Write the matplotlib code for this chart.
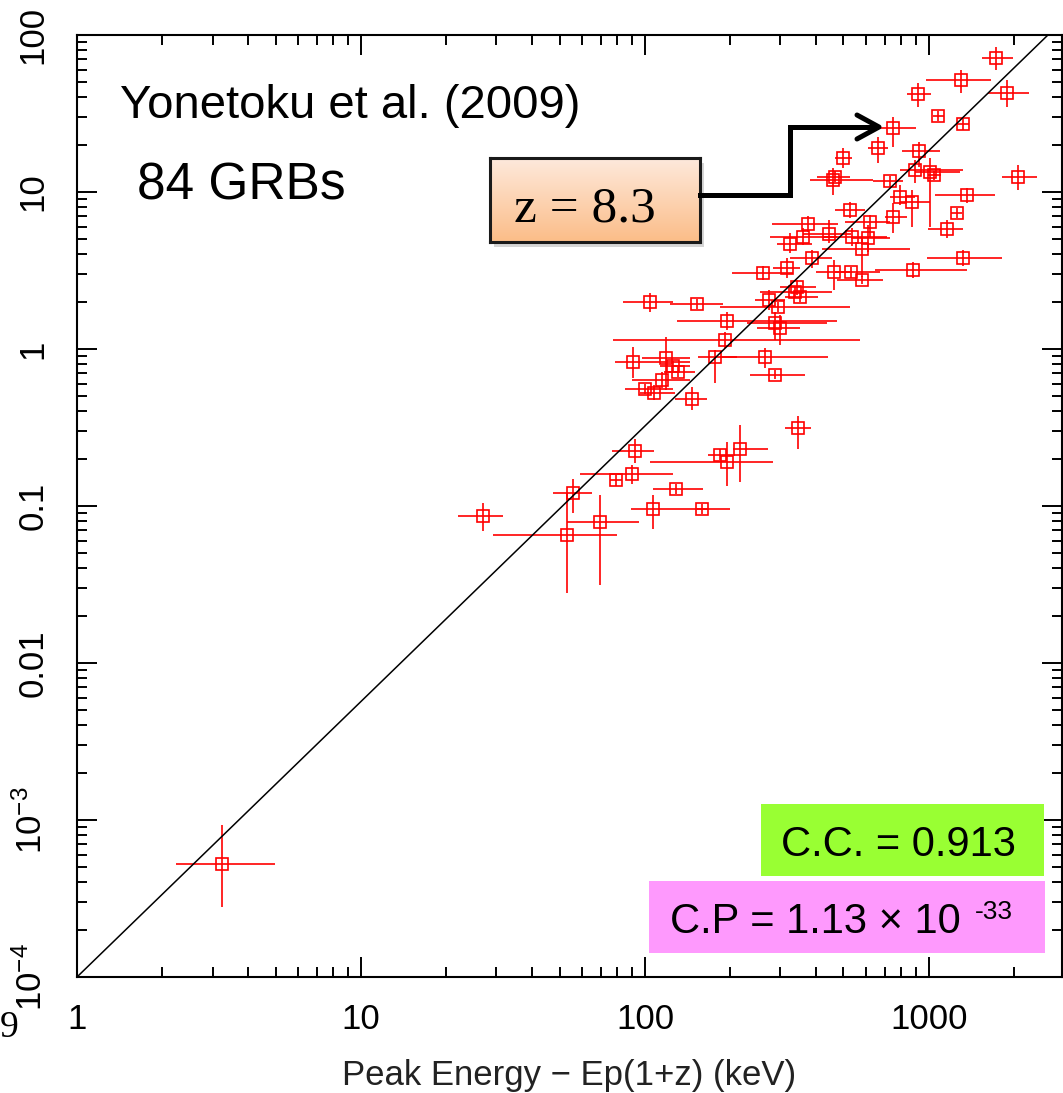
import numpy as np
import matplotlib
matplotlib.use("Agg")
import matplotlib.pyplot as plt
from matplotlib.patches import Rectangle
from matplotlib.lines import Line2D
from matplotlib.colors import LinearSegmentedColormap
from matplotlib.ticker import FixedLocator, LogLocator, NullFormatter

plt.rcParams['font.family'] = ['Liberation Sans', 'DejaVu Sans']
plt.rcParams['mathtext.fontset'] = 'custom'
plt.rcParams['mathtext.rm'] = 'Liberation Sans'
plt.rcParams['mathtext.it'] = 'Liberation Sans:italic'

# peak energy Ep(1+z) [keV] with error bar ends
ep = [1720, 1300, 1880, 915, 1076, 1318, 746, 661, 922, 498,
      2056, 459, 467, 730, 893, 1008, 1042, 1362, 791, 871,
      1255, 1157, 746, 527, 619, 375, 360, 324, 444, 536,
      609, 581, 387, 1318, 316, 260, 463, 531, 879, 343,
      337, 352, 294, 104, 152, 274, 194, 287, 299, 191,
      176, 265, 287, 90.7, 119, 126, 131, 115, 100, 108,
      146, 346, 92.2, 184, 194, 216, 90, 79.1, 129, 55.7,
      26.9, 107, 159, 69.5, 53.1, 3.24, 581]
ep_lo = [1540, 976, 1610, 838, 1030, 1260, 671, 609, 803, 466,
         1806, 381, 403, 635, 791, 893, 990, 1050, 730, 791,
         1200, 992, 700, 467, 506, 280, 275, 292, 360, 424,
         531, 420, 324, 984, 282, 202, 400, 467, 646, 299,
         254, 311, 184, 83.7, 122, 244, 130, 229, 248, 77.1,
         154, 184, 234, 78.3, 97.5, 113, 117, 90, 85, 96,
         128, 311, 76.5, 167, 104, 204, 59, 75, 107, 47.4,
         22, 89.3, 152, 53.1, 29.2, 2.23, 474]
ep_hi = [1980, 1650, 2250, 1016, 1125, 1380, 900, 718, 1094, 536,
         2399, 635, 527, 810, 1318, 1285, 1100, 1706, 893, 1008,
         1310, 1318, 838, 595, 730, 478, 474, 387, 531, 711,
         730, 857, 455, 1806, 352, 332, 527, 671, 1362, 400,
         455, 407, 527, 126, 188, 311, 474, 438, 352, 571,
         211, 441, 366, 144, 144, 144, 150, 144, 126, 128,
         165, 384, 108, 208, 282, 271, 126, 83, 160, 65,
         31.6, 199, 166, 95.3, 79.7, 4.98, 689]

# peak luminosity [1e52 erg/s] with error bar ends
lum = [71.3, 51.7, 42.7, 42.1, 30.5, 27.1, 25.6, 19.1, 18.2, 16.5,
       12.5, 11.9, 12.5, 11.7, 13.8, 13.4, 12.8, 9.57, 9.29, 8.63,
       7.34, 5.81, 6.93, 7.68, 6.44, 6.25, 5.17, 4.67, 5.4, 5.17,
       5.09, 4.33, 3.8, 3.8, 3.28, 3.05, 3.09, 3.09, 3.19, 2.48,
       2.31, 2.14, 1.85, 1.99, 1.94, 2.05, 1.51, 1.46, 1.36, 1.14,
       0.889, 0.889, 0.683, 0.826, 0.877, 0.779, 0.714, 0.635, 0.556, 0.525,
       0.48, 0.314, 0.224, 0.211, 0.191, 0.231, 0.16, 0.146, 0.128, 0.121,
       0.0863, 0.0957, 0.0957, 0.0791, 0.0654, 5.25e-4, 2.75]
lum_lo = [59.8, 42.7, 34.8, 34.8, 28.2, 25.0, 19.4, 15.3, 14.4, 14.2,
          10.3, 9.57, 11.5, 10.8, 11.4, 5.98, 12.0, 8.5, 8.25, 5.98,
          6.8, 5.09, 5.48, 6.83, 5.17, 5.56, 4.6, 4.09, 4.73, 4.53,
          4.15, 2.87, 3.28, 3.38, 2.83, 2.75, 2.38, 2.85, 2.83, 2.21,
          2.15, 2.0, 1.73, 1.72, 1.8, 1.77, 1.32, 1.14, 1.06, 1.01,
          0.607, 0.757, 0.64, 0.653, 0.548, 0.72, 0.66, 0.565, 0.52, 0.473,
          0.409, 0.231, 0.188, 0.195, 0.134, 0.142, 0.138, 0.135, 0.119, 0.0902,
          0.0693, 0.0714, 0.089, 0.0314, 0.0279, 2.79e-4, 2.6]
lum_hi = [83.9, 59.8, 51.7, 49.5, 33.0, 29.4, 30.0, 22.4, 20.8, 19.1,
          14.9, 14.2, 13.6, 12.7, 16.0, 16.5, 13.7, 10.6, 11.1, 10.3,
          7.9, 6.63, 8.5, 8.63, 7.14, 7.04, 5.9, 5.48, 6.63, 5.9,
          6.16, 5.17, 4.27, 4.27, 3.8, 3.38, 3.69, 3.35, 3.58, 2.75,
          2.48, 2.3, 1.98, 2.27, 2.08, 2.38, 1.72, 1.72, 1.65, 1.28,
          0.986, 1.01, 0.73, 1.03, 1.19, 0.84, 0.77, 0.714, 0.6, 0.59,
          0.573, 0.374, 0.267, 0.23, 0.256, 0.328, 0.182, 0.158, 0.138, 0.149,
          0.1045, 0.1175, 0.103, 0.1175, 0.121, 9.29e-4, 2.9]

# best-fit line L = norm * Ep^slope
fit_norm = 1e-4
fit_slope = 1.755

x_ticks = [1, 10, 100, 1000]
x_labels = ['1', '10', '100', '1000']
y_ticks = [1e-4, 1e-3, 1e-2, 1e-1, 1, 10, 100]
y_labels = ['$10^{-4}$', '$10^{-3}$', '0.01', '0.1', '1', '10', '100']

W, H = 1063, 1093
def fx(px):
    return px / W
def fy(py):
    return 1 - py / H

ep = np.array(ep); ep_lo = np.array(ep_lo); ep_hi = np.array(ep_hi)
lum = np.array(lum); lum_lo = np.array(lum_lo); lum_hi = np.array(lum_hi)

fig = plt.figure(figsize=(W / 100, H / 100), dpi=100)
ax = fig.add_axes([fx(77), fy(977), (1062 - 77) / W, (977 - 35) / H])

ax.errorbar(ep, lum, xerr=[ep - ep_lo, ep_hi - ep], yerr=[lum - lum_lo, lum_hi - lum],
            fmt='s', mfc='none', mec='red', ms=9, mew=1.2,
            ecolor='red', elinewidth=1.2, capsize=0, zorder=3)

xl = np.array([1, 3000.0])
ax.plot(xl, fit_norm * xl ** fit_slope, color='black', lw=1.1, zorder=4)

ax.set_xscale('log')
ax.set_yscale('log')
ax.set_xlim(1, 2940)
ax.set_ylim(1e-4, 100)

ax.xaxis.set_major_locator(FixedLocator(x_ticks))
ax.set_xticklabels(x_labels)
ax.yaxis.set_major_locator(FixedLocator(y_ticks))
ax.set_yticklabels(y_labels, rotation=90, va='center')
for axis in (ax.xaxis, ax.yaxis):
    axis.set_minor_locator(LogLocator(base=10, subs=np.arange(2, 10), numticks=20))
    axis.set_minor_formatter(NullFormatter())

ax.tick_params(which='both', direction='in', top=True, right=True, width=1.4,
               labelsize=25, colors='black')
ax.tick_params(which='major', length=14.5)
ax.tick_params(which='minor', length=7.5)
ax.tick_params(axis='x', pad=19)
ax.tick_params(axis='y', pad=20)
for s in ax.spines.values():
    s.set_linewidth(1.5)

ax.set_xlabel('Peak Energy \u2212 Ep(1+z) (keV)', fontsize=25, labelpad=16, color='#222222')

# annotations
fig.text(fx(120), fy(118), 'Yonetoku et al. (2009)', fontsize=34, va='baseline')
fig.text(fx(137), fy(200), '84 GRBs', fontsize=37, va='baseline')

# z = 8.3 callout box with gradient fill and shadow
fig.add_artist(Rectangle((fx(494), fy(247)), 210 / W, 84 / H, transform=fig.transFigure,
                         color='#888888', alpha=0.35, lw=0, zorder=1))
gax = fig.add_axes([fx(490), fy(242), 210 / W, 84 / H])
gax.set_zorder(2)
cmap = LinearSegmentedColormap.from_list('peach', ['#fee9dc', '#fbbd88'])
gax.imshow(np.linspace(0, 1, 100).reshape(-1, 1), aspect='auto', cmap=cmap,
           extent=[0, 1, 0, 1], origin='upper')
gax.set_xticks([]); gax.set_yticks([])
for s in gax.spines.values():
    s.set_linewidth(2.2)
    s.set_color('#1a1a1a')
gax.text(0.45, 0.24, 'z = 8.3', transform=gax.transAxes, ha='center', va='baseline',
         fontsize=37, family='Liberation Serif')

arrow_x = [700, 790, 790, 876]
arrow_y = [195, 195, 127, 127]
fig.add_artist(Line2D([fx(v) for v in arrow_x], [fy(v) for v in arrow_y],
                      transform=fig.transFigure, color='black', lw=3.6,
                      solid_joinstyle='miter', zorder=5))
fig.add_artist(Line2D([fx(857), fx(879), fx(857)], [fy(115), fy(127), fy(139)],
                      transform=fig.transFigure, color='black', lw=3.6,
                      solid_capstyle='round', zorder=5))

# statistics boxes
fig.add_artist(Rectangle((fx(761), fy(876)), (1044 - 761) / W, (876 - 804) / H,
                         transform=fig.transFigure, color='#99ff33', lw=0, zorder=5))
fig.text(fx(781), fy(856), 'C.C. = 0.913', fontsize=30, va='baseline', zorder=6)
fig.add_artist(Rectangle((fx(649), fy(953)), (1045 - 649) / W, (953 - 881) / H,
                         transform=fig.transFigure, color='#fe99fd', lw=0, zorder=5))
fig.text(fx(670), fy(933), 'C.P = 1.13 \u00d7 10', fontsize=30, va='baseline', zorder=6)
fig.text(fx(975), fy(919), '-33', fontsize=19, va='baseline', zorder=6)

fig.text(fx(0), fy(1037), '9', fontsize=27, family='Liberation Serif',
         ha='left', va='baseline')

fig.savefig('out.png', dpi=100)
